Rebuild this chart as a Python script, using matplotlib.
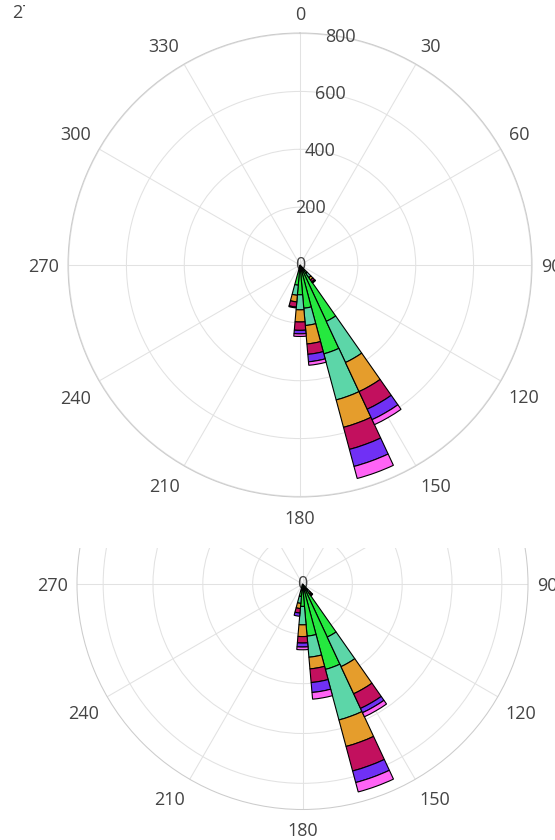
import numpy as np
import matplotlib
matplotlib.use("Agg")
import matplotlib.pyplot as plt
from matplotlib.patches import Rectangle

plt.rcParams["font.family"] = ["Open Sans", "DejaVu Sans"]

# Direction bins (degrees, clockwise from north) and bin width
directions = [140, 150, 160, 170, 180, 190]
bin_width = 10

# Stacked counts per class, upper rose
top_c1 = [35, 215, 318, 150, 103, 70]
top_c2 = [18, 157, 165, 60, 52, 35]
top_c3 = [10, 111, 98, 64, 42, 23]
top_c4 = [8, 67, 79, 36, 29, 18]
top_c5 = [3, 40, 61, 26, 12, 3]
top_c6 = [2, 19, 43, 12, 9, 0]

# Stacked counts per class, lower rose
bot_c1 = [30, 235, 355, 210, 90, 50]
bot_c2 = [12, 131, 210, 85, 74, 28]
bot_c3 = [8, 120, 110, 47, 47, 21]
bot_c4 = [5, 65, 102, 55, 26, 18]
bot_c5 = [2, 19, 48, 40, 16, 13]
bot_c6 = [1, 18, 39, 27, 11, 0]

class_colors = ["#25e83f", "#5cd6a8", "#e59d2c", "#c2105e", "#7030f5", "#ff63f5"]
radial_ticks = [0, 200, 400, 600, 800]
angle_ticks = list(range(0, 360, 30))

TEXT = "#444444"
FS = 13
W, H = 555, 840

fig = plt.figure(figsize=(W / 100, H / 100), dpi=100)
fig.patch.set_facecolor("white")


def polar_axes(cx, cy, R, z):
    rect = [(cx - R) / W, (H - cy - R) / H, 2 * R / W, 2 * R / H]
    ax = fig.add_axes(rect, projection="polar", zorder=z)
    ax.set_theta_zero_location("N")
    ax.set_theta_direction(-1)
    return ax


def style(ax, rmax):
    ax.set_ylim(0, rmax)
    ax.set_xticks(np.deg2rad(angle_ticks))
    ax.set_xticklabels([])
    ax.set_yticks(radial_ticks[1:])
    ax.set_yticklabels([])
    ax.tick_params(length=0)
    ax.grid(True, color="#e2e2e2", lw=0.75)
    ax.spines["polar"].set_color("#cccccc")
    ax.spines["polar"].set_linewidth(0.75)
    ax.set_facecolor("white")
    # angular labels around the rim, anchored on the side facing the circle
    pad = 9
    for ang in angle_ticks:
        th = np.deg2rad(ang)
        s, c = np.sin(th), np.cos(th)
        ha = "center" if abs(s) < 0.1 else ("left" if s > 0 else "right")
        if abs(c) < 0.1:
            va, extra = "center", -2
        elif c > 0:
            va, extra = "bottom", 0
        else:
            va, extra = "top", -4
        ax.annotate(str(ang), xy=(th, rmax),
                    xytext=(pad * s, pad * c + extra),
                    textcoords="offset pixels", ha=ha, va=va,
                    annotation_clip=False, fontsize=FS, color=TEXT, zorder=3)
    # radial labels
    for r in radial_ticks:
        ax.text(np.deg2rad(10), r, str(r), ha="center", va="center",
                fontsize=FS, color=TEXT, zorder=3)


def stacked_bars(ax, classes):
    theta = np.deg2rad(directions)
    width = np.deg2rad(bin_width)
    base = np.zeros(len(directions))
    for vals, col in zip(classes, class_colors):
        vals = np.asarray(vals, dtype=float)
        bars = ax.bar(theta, vals, width=width, bottom=base, color=col,
                      edgecolor="black", linewidth=0.8, zorder=4)
        for b, v in zip(bars, vals):
            if v <= 0:
                b.set_visible(False)
        base = base + vals


# lower rose (drawn first, partly covered)
ax_bot = polar_axes(302.5, 584, 225.5, 0)
style(ax_bot, 905)
stacked_bars(ax_bot, [bot_c1, bot_c2, bot_c3, bot_c4, bot_c5, bot_c6])

fig.text(12 / W, 1 - 13.5 / H, "270", ha="left", va="center",
         fontsize=FS, color=TEXT, zorder=0.5)

fig.add_artist(Rectangle((25 / W, (H - 548) / H), 1, 1,
                         transform=fig.transFigure, facecolor="white",
                         edgecolor="none", zorder=1))

# upper rose
ax_top = polar_axes(300, 265, 232, 2)
style(ax_top, 802)
stacked_bars(ax_top, [top_c1, top_c2, top_c3, top_c4, top_c5, top_c6])

fig.savefig("out.png", dpi=100, facecolor="white")
